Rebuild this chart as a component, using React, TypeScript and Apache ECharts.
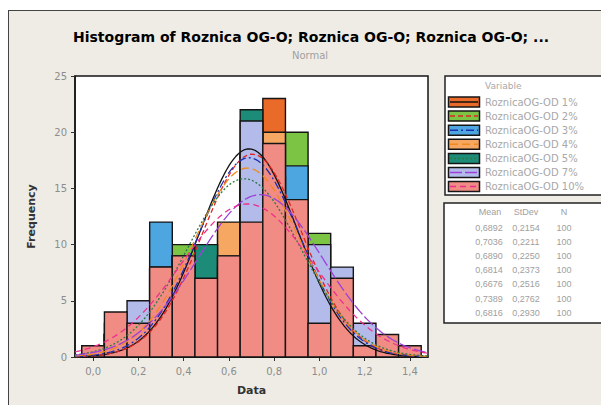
import React, { useEffect, useRef } from "react";
import * as echarts from "echarts";

// Bin centres (bin width 0.1)
const binCenters = [0.0, 0.1, 0.2, 0.3, 0.4, 0.5, 0.6, 0.7, 0.8, 0.9, 1.0, 1.1, 1.2, 1.3, 1.4];

// Frequencies per variable (overlaid, later variables drawn in front)
const freq1 = [0, 2, 4, 9, 8, 10, 11, 18, 23, 12, 2, 1, 0, 0, 0];
const freq2 = [0, 1, 3, 8, 10, 9, 10, 14, 12, 20, 11, 2, 0, 0, 0];
const freq3 = [0, 2, 4, 12, 9, 8, 10, 16, 14, 17, 6, 2, 0, 0, 0];
const freq4 = [1, 2, 4, 8, 9, 8, 12, 18, 20, 10, 6, 2, 0, 0, 0];
const freq5 = [0, 2, 4, 8, 9, 10, 9, 22, 16, 13, 5, 2, 0, 0, 0];
const freq7 = [1, 3, 5, 7, 8, 6, 8, 21, 10, 9, 10, 8, 3, 1, 0];
const freq10 = [1, 4, 3, 8, 9, 7, 9, 12, 19, 14, 3, 7, 1, 2, 1];

const variables = [
  "RoznicaOG-OD 1%",
  "RoznicaOG-OD 2%",
  "RoznicaOG-OD 3%",
  "RoznicaOG-OD 4%",
  "RoznicaOG-OD 5%",
  "RoznicaOG-OD 7%",
  "RoznicaOG-OD 10%",
];
const means = [0.6892, 0.7036, 0.689, 0.6814, 0.6676, 0.7389, 0.6816];
const stdevs = [0.2154, 0.2211, 0.225, 0.2373, 0.2516, 0.2762, 0.293];
const counts = [100, 100, 100, 100, 100, 100, 100];
const meanLabels = ["0,6892", "0,7036", "0,6890", "0,6814", "0,6676", "0,7389", "0,6816"];
const stdevLabels = ["0,2154", "0,2211", "0,2250", "0,2373", "0,2516", "0,2762", "0,2930"];
const xTicks = [0.0, 0.2, 0.4, 0.6, 0.8, 1.0, 1.2, 1.4];

const allFreq = [freq1, freq2, freq3, freq4, freq5, freq7, freq10];
const fillColors = ["#ea6a2a", "#7cc444", "#4ea6e0", "#f6a762", "#1c8c78", "#b3bbea", "#f08c84"];
const lineColors = ["#111111", "#e02424", "#1a2fb0", "#f08a1c", "#2a7a44", "#9b40d8", "#ee2d8f"];
const lineDash: any[] = ["solid", [5, 3], [8, 3, 2, 3], [8, 4], [2, 2], [12, 3], [6, 4]];

const BIN_WIDTH = 0.1;
const X_MIN = -0.08;
const X_MAX = 1.48;

export default function App() {
  const ref = useRef<HTMLDivElement>(null);

  useEffect(() => {
    if (!ref.current) return;
    const chart = echarts.init(ref.current, null, { renderer: "svg" });

    const barSeries = allFreq.map((f, i) => ({
      type: "custom",
      name: variables[i],
      z: 2,
      data: binCenters.map((c, j) => [c, f[j]]),
      encode: { x: 0, y: 1 },
      renderItem: (params: any, api: any) => {
        const c = api.value(0);
        const v = api.value(1);
        if (!v) return null;
        const p1 = api.coord([c - BIN_WIDTH / 2, v]);
        const p2 = api.coord([c + BIN_WIDTH / 2, 0]);
        return {
          type: "rect",
          shape: { x: p1[0], y: p1[1], width: p2[0] - p1[0], height: p2[1] - p1[1] },
          style: { fill: fillColors[i], stroke: "#151515", lineWidth: 1.4 },
        };
      },
    }));

    const curveSeries = means.map((m, i) => {
      const s = stdevs[i];
      const scale = counts[i] * BIN_WIDTH;
      const pts: number[][] = [];
      for (let k = 0; k <= 156; k++) {
        const x = X_MIN + k * 0.01;
        const y = (scale / (s * Math.sqrt(2 * Math.PI))) * Math.exp(-((x - m) * (x - m)) / (2 * s * s));
        pts.push([x, y]);
      }
      return {
        type: "line",
        name: variables[i] + " fit",
        z: 3,
        data: pts,
        showSymbol: false,
        symbol: "none",
        lineStyle: { color: lineColors[i], width: 1.3, type: lineDash[i] },
      };
    });

    const graphics: any[] = [];
    // Title
    graphics.push({
      type: "text",
      x: 311,
      y: 37,
      style: {
        text: "Histogram of Roznica OG-O; Roznica OG-O; Roznica OG-O; ...",
        font: "bold 14px 'DejaVu Sans', sans-serif",
        fill: "#000",
        align: "center",
        verticalAlign: "middle",
      },
    });
    graphics.push({
      type: "text",
      x: 310,
      y: 55,
      style: {
        text: "Normal",
        font: "10px 'DejaVu Sans', sans-serif",
        fill: "#a0a0a0",
        align: "center",
        verticalAlign: "middle",
      },
    });
    // Legend box
    graphics.push({
      type: "rect",
      shape: { x: 445, y: 76, width: 170, height: 119 },
      style: { fill: "#fff", stroke: "#222", lineWidth: 1.5 },
    });
    graphics.push({
      type: "text",
      x: 485,
      y: 86,
      style: { text: "Variable", font: "9px 'DejaVu Sans', sans-serif", fill: "#a8a8a8", verticalAlign: "middle" },
    });
    variables.forEach((v, i) => {
      const cy = 102 + i * 14.1;
      graphics.push({
        type: "rect",
        shape: { x: 448.5, y: cy - 5, width: 31, height: 10 },
        style: { fill: fillColors[i], stroke: "#151515", lineWidth: 1.5 },
      });
      graphics.push({
        type: "line",
        shape: { x1: 450, y1: cy, x2: 478, y2: cy },
        style: { stroke: lineColors[i], lineWidth: 1.5, lineDash: lineDash[i] === "solid" ? null : lineDash[i] },
      });
      graphics.push({
        type: "text",
        x: 485,
        y: cy,
        style: { text: v, font: "10px 'DejaVu Sans', sans-serif", fill: "#a8a8a8", verticalAlign: "middle" },
      });
    });
    // Stats box
    graphics.push({
      type: "rect",
      shape: { x: 444, y: 203, width: 170, height: 120 },
      style: { fill: "#fff", stroke: "#222", lineWidth: 1.5 },
    });
    const hdrY = 212;
    [
      ["Mean", 490],
      ["StDev", 526],
      ["N", 564],
    ].forEach(([t, x]) => {
      graphics.push({
        type: "text",
        x: x as number,
        y: hdrY,
        style: { text: t as string, font: "9px 'Liberation Sans', sans-serif", fill: "#a0a0a0", align: "center", verticalAlign: "middle" },
      });
    });
    meanLabels.forEach((m, i) => {
      const cy = 227.5 + i * 14.2;
      graphics.push({
        type: "text",
        x: 489,
        y: cy,
        style: { text: m, font: "9px 'Liberation Sans', sans-serif", fill: "#a0a0a0", align: "center", verticalAlign: "middle" },
      });
      graphics.push({
        type: "text",
        x: 526,
        y: cy,
        style: { text: stdevLabels[i], font: "9px 'Liberation Sans', sans-serif", fill: "#a0a0a0", align: "center", verticalAlign: "middle" },
      });
      graphics.push({
        type: "text",
        x: 564,
        y: cy,
        style: { text: String(counts[i]), font: "9px 'Liberation Sans', sans-serif", fill: "#a0a0a0", align: "center", verticalAlign: "middle" },
      });
    });

    chart.setOption({
      animation: false,
      backgroundColor: "transparent",
      grid: {
        left: 75,
        top: 76,
        width: 353,
        height: 281,
        show: true,
        backgroundColor: "#ffffff",
        borderColor: "#151515",
        borderWidth: 1.5,
      },
      xAxis: {
        type: "value",
        min: X_MIN,
        max: X_MAX,
        name: "Data",
        nameLocation: "middle",
        nameGap: 28,
        nameTextStyle: { fontFamily: "'DejaVu Sans', sans-serif", fontWeight: "bold", fontSize: 11, color: "#333" },
        splitLine: { show: false },
        axisLine: { show: true, onZero: false, lineStyle: { color: "#151515", width: 1.5 } },
        axisTick: { show: true, customValues: xTicks, length: 4, lineStyle: { color: "#333" } },
        axisLabel: {
          customValues: xTicks,
          margin: 9,
          color: "#8c8c8c",
          fontSize: 10,
          fontFamily: "'DejaVu Sans', sans-serif",
          formatter: (v: number) => v.toFixed(1).replace(".", ","),
        },
      },
      yAxis: {
        type: "value",
        min: 0,
        max: 25,
        interval: 5,
        name: "Frequency",
        nameLocation: "middle",
        nameGap: 38,
        nameTextStyle: { fontFamily: "'DejaVu Sans', sans-serif", fontWeight: "bold", fontSize: 11, color: "#333" },
        splitLine: { show: false },
        axisLine: { show: true, onZero: false, lineStyle: { color: "#151515", width: 1.5 } },
        axisTick: { show: true, length: 4, lineStyle: { color: "#333" } },
        axisLabel: { margin: 8, color: "#8c8c8c", fontSize: 10, fontFamily: "'DejaVu Sans', sans-serif" },
      },
      series: [...barSeries, ...curveSeries],
      graphic: graphics,
    });

    return () => chart.dispose();
  }, []);

  return (
    <div style={{ position: "fixed", left: 0, top: 0, width: 601, height: 405, background: "#fff", overflow: "hidden" }}>
      <div
        style={{
          position: "absolute",
          left: 8,
          top: 10,
          width: 600,
          height: 400,
          background: "#efece5",
          borderLeft: "1px solid #444",
          borderTop: "1px solid #444",
        }}
      />
      <div ref={ref} style={{ position: "absolute", left: 0, top: 0, width: 601, height: 405 }} />
    </div>
  );
}
